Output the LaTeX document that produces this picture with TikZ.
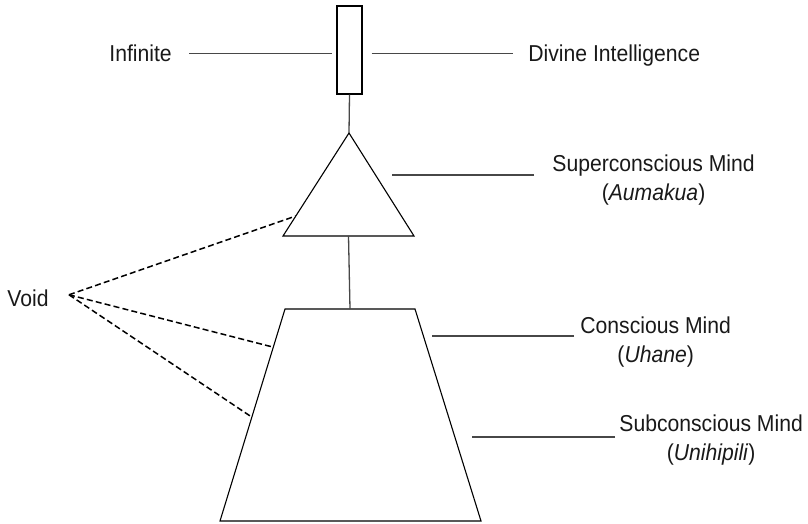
\documentclass[tikz,border=0pt]{standalone}
\usepackage{fontspec}
\setmainfont{Liberation Sans}[FakeStretch=0.92]
\usetikzlibrary{calc}

\begin{document}
\begin{tikzpicture}[
  x=0.5pt, y=-0.5pt,
  shapeline/.style={draw=black, line width=0.55pt},
  leader/.style={draw=black!72, line width=0.65pt},
  voidline/.style={draw=black, line width=0.75pt, dash pattern=on 3pt off 1.6pt},
  label/.style={inner sep=0pt, align=center, text=black!90,
    font=\fontsize{11.5pt}{14.75pt}\selectfont}]

  \useasboundingbox (0,0) rectangle (808,524);

  \node[shapeline, minimum width=12.5pt, minimum height=44pt, inner sep=0pt] (infbox) at (349.5,50) {};

  \coordinate (triA) at (349,133);
  \coordinate (triL) at (283,236);
  \coordinate (triR) at (414,236);
  \draw[shapeline] (triA) -- (triR) -- (triL) -- cycle;

  \coordinate (trapTL) at (285,309);
  \coordinate (trapTR) at (415,309);
  \coordinate (trapBR) at (481,521);
  \coordinate (trapBL) at (220,521);
  \draw[shapeline] (trapTL) -- (trapTR) -- (trapBR) -- (trapBL) -- cycle;

  \draw[leader] (infbox.south) -- (triA);
  \draw[leader] ($(triL)!0.5!(triR)$) -- ($(trapTL)!0.5!(trapTR)$);

  \node[label, anchor=base west] (infinite) at (109,62) {Infinite};
  \node[label, anchor=base west] (divine) at (528,62) {Divine Intelligence};
  \node[label, anchor=base west] (superc) at (552,200.5) {Superconscious Mind\\(\textit{Aumakua})};
  \node[label, anchor=base west] (consc) at (580,362.5) {Conscious Mind\\(\textit{Uhane})};
  \node[label, anchor=base west] (subc) at (619,460.5) {Subconscious Mind\\(\textit{Unihipili})};
  \node[label, anchor=base west] (void) at (7,306) {Void};

  \draw[leader] ([shift={(17,0)}]infinite.east) -- ([shift={(-4,0)}]infbox.west |- infinite.east);
  \draw[leader] ([shift={(9,0)}]infbox.east |- infinite.east) -- ([shift={(-15,0)}]divine.west |- infinite.east);
  \draw[leader] ([shift={(-18,-25.5)}]superc.base west) -- ++(-142,0);
  \draw[leader] ([shift={(-6,-26.5)}]consc.base west) -- ++(-142,0);
  \draw[leader] ([shift={(-4,-23.5)}]subc.base west) -- ++(-143,0);

  \coordinate (voidtip) at ($(void.east)+(20,-3)$);
  \draw[voidline] (voidtip) -- ($(triL)!0.194!(triA)$);
  \draw[voidline] (voidtip) -- ($(trapBL)!0.82!(trapTL)$);
  \draw[voidline] (voidtip) -- ($(trapBL)!0.49!(trapTL)$);
\end{tikzpicture}
\end{document}
